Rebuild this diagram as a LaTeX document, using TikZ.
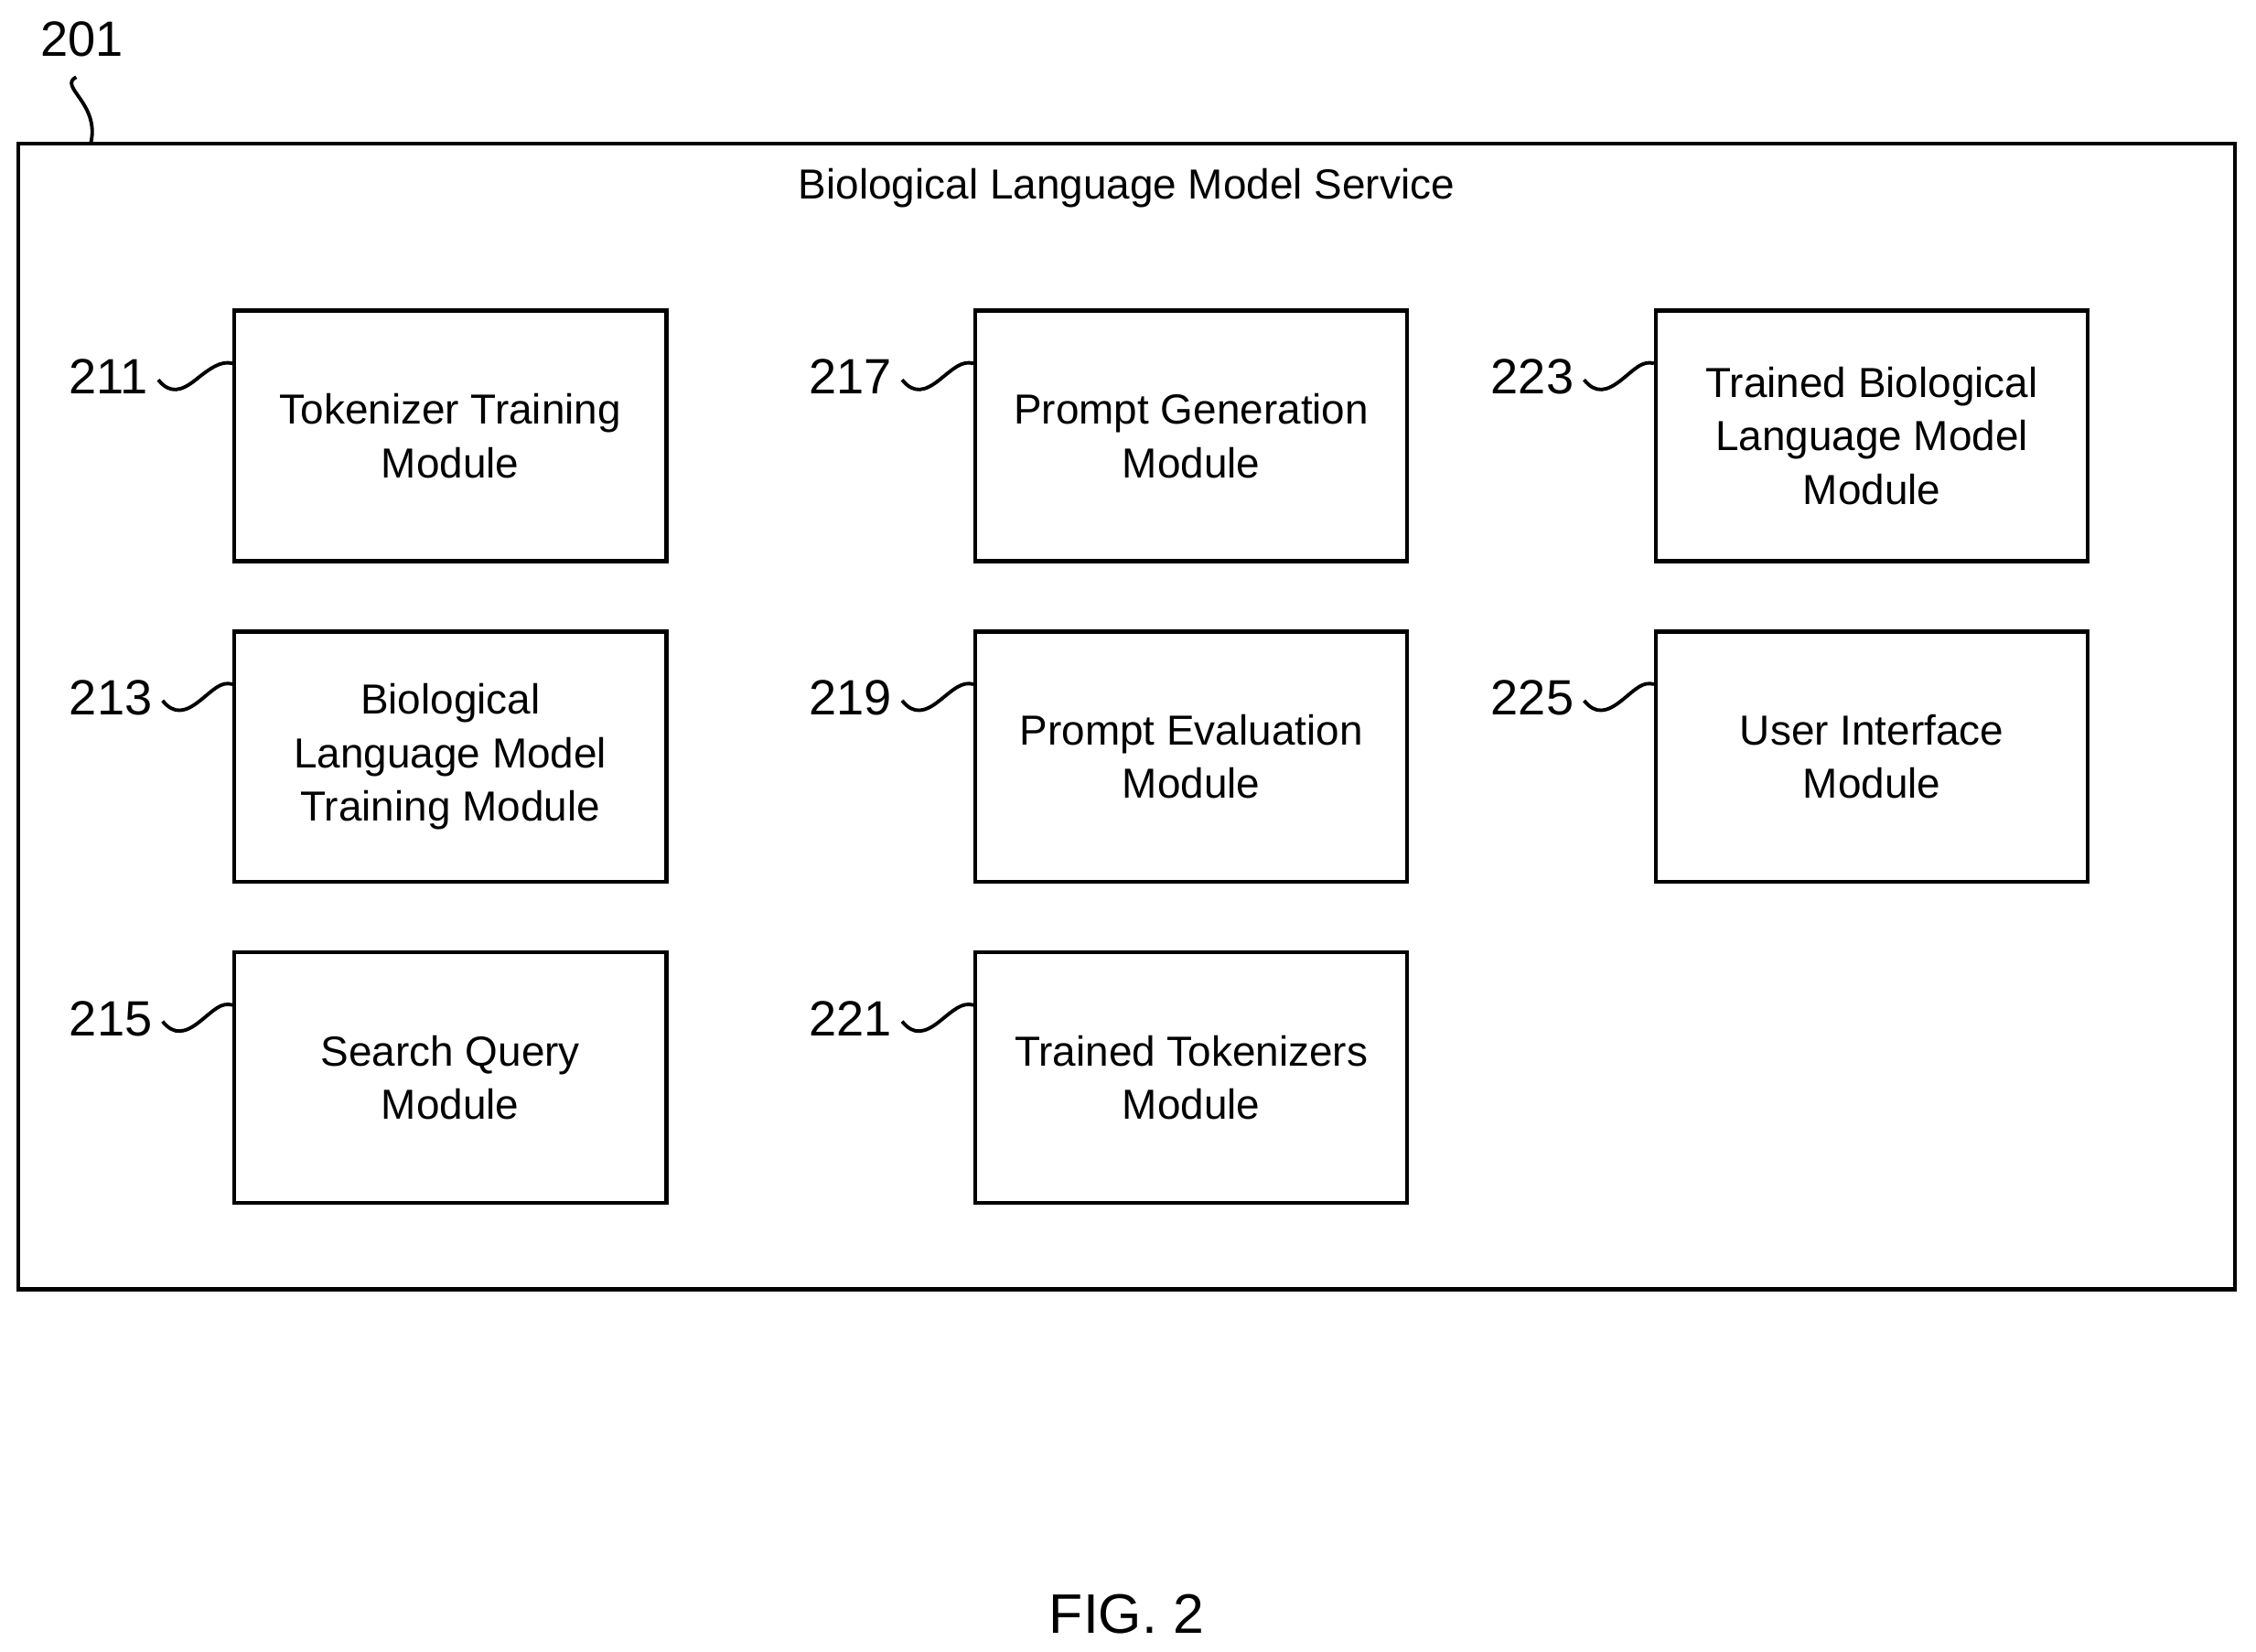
\documentclass[tikz,border=0pt]{standalone}
\usepackage{fontspec}
\setmainfont{Liberation Sans}
\begin{document}
\begin{tikzpicture}[x=0.01cm,y=-0.01cm,
  box/.style={draw,line width=0.8pt,minimum width=3cm,minimum height=1.74cm,align=center,inner sep=0pt,font=\fontsize{8.3}{10.6}\selectfont},
  num/.style={font=\fontsize{9.8}{11}\selectfont,anchor=east,inner sep=1pt},
  sq/.style={line width=0.7pt}]
\useasboundingbox (0,0) rectangle (1568,1148);
\node[draw,line width=0.8pt,minimum width=15.4cm,minimum height=7.96cm,inner sep=0pt] (outer) at (783,498) {};
\node[font=\fontsize{8.3}{10}\selectfont] (title) at (783,131) {Biological Language Model Service};
\node[font=\fontsize{9.8}{11}\selectfont] (l201) at (57,27) {201};
\coordinate (c201) at (63,100);
\draw[sq] (l201.south) ++(-4,2) .. controls (40,60) and (70,72) .. (c201);
\foreach \n/\x/\y/\t/\lx in {
 211/313/303/{Tokenizer Training\\Module}/105,
 213/313/526/{Biological\\Language Model\\Training Module}/108,
 215/313/749/{Search Query\\Module}/108,
 217/828/303/{Prompt Generation\\Module}/622,
 219/828/526/{Prompt Evaluation\\Module}/622,
 221/828/749/{Trained Tokenizers\\Module}/622,
 223/1301/303/{Trained Biological\\Language Model\\Module}/1096,
 225/1301/526/{User Interface\\Module}/1096}{
  \node[box] (b\n) at (\x,\y) {\t};
  \node[num] (l\n) at (\lx+2,\y-41) {\n};
  \coordinate (c\n) at ([yshift=-0.38cm]b\n.north west);
  \draw[sq] (l\n.east) ++(3,2) .. controls +(8,10) and +(-10,8) .. ++(26,0) .. controls +(10,-8) and +(-8,-2) .. (c\n);
}
\node[font=\fontsize{11}{13}\selectfont] (fig) at (783,1122) {FIG. 2};
\end{tikzpicture}
\end{document}
